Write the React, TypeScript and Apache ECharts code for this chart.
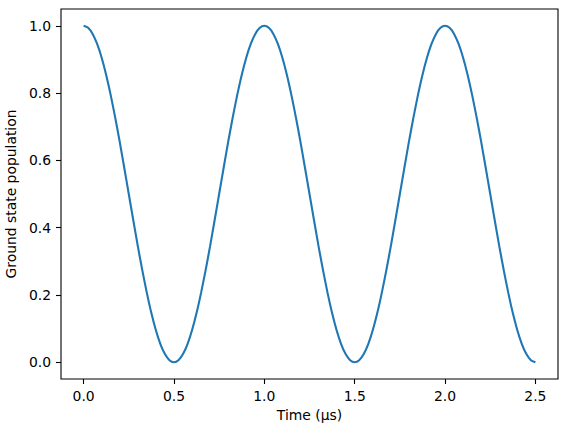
import React, { useEffect, useRef } from "react";
import * as echarts from "echarts";

const times: number[] = [
  0, 0.025, 0.05, 0.075, 0.1, 0.125, 0.15, 0.175, 0.2, 0.225, 0.25, 0.275, 0.3, 0.325, 0.35, 0.375, 0.4, 0.425, 0.45, 0.475,
  0.5, 0.525, 0.55, 0.575, 0.6, 0.625, 0.65, 0.675, 0.7, 0.725, 0.75, 0.775, 0.8, 0.825, 0.85, 0.875, 0.9, 0.925, 0.95, 0.975,
  1.0, 1.025, 1.05, 1.075, 1.1, 1.125, 1.15, 1.175, 1.2, 1.225, 1.25, 1.275, 1.3, 1.325, 1.35, 1.375, 1.4, 1.425, 1.45, 1.475,
  1.5, 1.525, 1.55, 1.575, 1.6, 1.625, 1.65, 1.675, 1.7, 1.725, 1.75, 1.775, 1.8, 1.825, 1.85, 1.875, 1.9, 1.925, 1.95, 1.975,
  2.0, 2.025, 2.05, 2.075, 2.1, 2.125, 2.15, 2.175, 2.2, 2.225, 2.25, 2.275, 2.3, 2.325, 2.35, 2.375, 2.4, 2.425, 2.45, 2.475,
  2.5,
];

const population: number[] = [
  1, 0.994, 0.976, 0.946, 0.905, 0.854, 0.794, 0.727, 0.655, 0.578, 0.5, 0.422, 0.345, 0.273, 0.206, 0.146, 0.095, 0.054, 0.024, 0.006,
  0, 0.006, 0.024, 0.054, 0.095, 0.146, 0.206, 0.273, 0.345, 0.422, 0.5, 0.578, 0.655, 0.727, 0.794, 0.854, 0.905, 0.946, 0.976, 0.994,
  1, 0.994, 0.976, 0.946, 0.905, 0.854, 0.794, 0.727, 0.655, 0.578, 0.5, 0.422, 0.345, 0.273, 0.206, 0.146, 0.095, 0.054, 0.024, 0.006,
  0, 0.006, 0.024, 0.054, 0.095, 0.146, 0.206, 0.273, 0.345, 0.422, 0.5, 0.578, 0.655, 0.727, 0.794, 0.854, 0.905, 0.946, 0.976, 0.994,
  1, 0.994, 0.976, 0.946, 0.905, 0.854, 0.794, 0.727, 0.655, 0.578, 0.5, 0.422, 0.345, 0.273, 0.206, 0.146, 0.095, 0.054, 0.024, 0.006,
  0,
];

const xTicks: number[] = [0, 0.5, 1.0, 1.5, 2.0, 2.5];
const yTicks: number[] = [0, 0.2, 0.4, 0.6, 0.8, 1.0];

const FONT = "DejaVu Sans";
const FS = 13.9;

export default function App() {
  const ref = useRef<HTMLDivElement>(null);
  useEffect(() => {
    if (!ref.current) return;
    const chart = echarts.init(ref.current, undefined, { renderer: "svg" });
    chart.setOption({
      animation: false,
      backgroundColor: "#ffffff",
      grid: {
        left: 61,
        right: 9,
        top: 9,
        bottom: 53,
        containLabel: false,
        outerBoundsMode: "none",
        show: true,
        borderColor: "#000000",
        borderWidth: 1.1,
        backgroundColor: "transparent",
      },
      xAxis: {
        type: "value",
        min: -0.125,
        max: 2.625,
        name: "Time (μs)",
        nameLocation: "middle",
        nameGap: 28,
        nameTextStyle: { fontFamily: FONT, fontSize: FS, color: "#000", verticalAlign: "top" },
        axisLine: { show: false, onZero: false },
        splitLine: { show: false },
        axisTick: { show: true, inside: false, customValues: xTicks, length: 5, lineStyle: { color: "#000", width: 1.1 } },
        axisLabel: {
          customValues: xTicks,
          margin: 10,
          fontFamily: FONT,
          fontSize: FS,
          color: "#000",
          formatter: (v: number) => v.toFixed(1),
        },
      },
      yAxis: {
        type: "value",
        min: -0.05,
        max: 1.05,
        name: "Ground state population",
        nameLocation: "middle",
        nameGap: 32,
        nameTextStyle: { fontFamily: FONT, fontSize: FS, color: "#000" },
        axisLine: { show: false, onZero: false },
        splitLine: { show: false },
        axisTick: { show: true, inside: false, customValues: yTicks, length: 5, lineStyle: { color: "#000", width: 1.1 } },
        axisLabel: {
          customValues: yTicks,
          margin: 10,
          fontFamily: FONT,
          fontSize: FS,
          color: "#000",
          formatter: (v: number) => v.toFixed(1),
        },
      },
      series: [
        {
          type: "line",
          data: times.map((t, i) => [t, population[i]]),
          showSymbol: false,
          smooth: 0.2,
          lineStyle: { color: "#1f77b4", width: 2.1 },
          itemStyle: { color: "#1f77b4" },
        },
      ],
    });
    return () => chart.dispose();
  }, []);
  return <div ref={ref} style={{ width: 567, height: 432, position: "absolute", left: 0, top: 0 }} />;
}
